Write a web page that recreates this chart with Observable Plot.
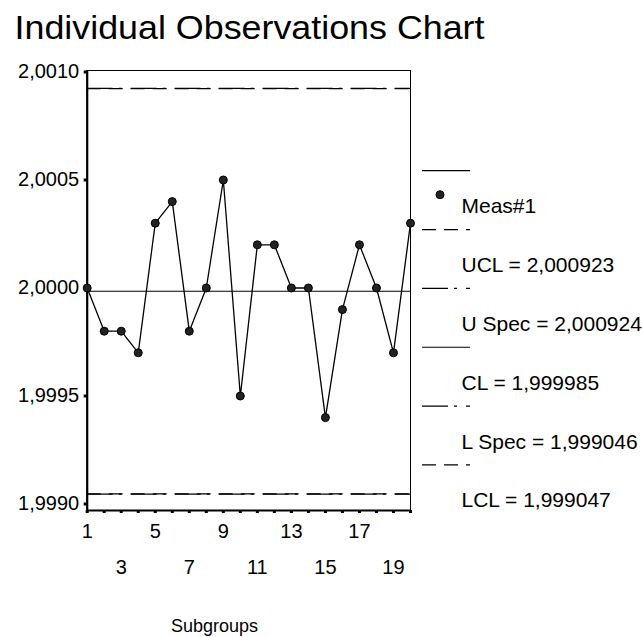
<!DOCTYPE html>
<html>
<head>
<meta charset="utf-8">
<script src="https://cdn.jsdelivr.net/npm/d3@7"></script>
<script src="https://cdn.jsdelivr.net/npm/@observablehq/plot@0.6"></script>
<style>
  body { margin: 0; background: #fff; }
  #chart svg { display: block; }
</style>
</head>
<body>
<div id="chart"></div>
<script>
// Individual measurements per subgroup
const subgroups = [1, 2, 3, 4, 5, 6, 7, 8, 9, 10, 11, 12, 13, 14, 15, 16, 17, 18, 19, 20];
const measurements = [2.0000, 1.9998, 1.9998, 1.9997, 2.0003, 2.0004, 1.9998, 2.0000, 2.0005, 1.9995,
                      2.0002, 2.0002, 2.0000, 2.0000, 1.9994, 1.9999, 2.0002, 2.0000, 1.9997, 2.0003];

// Control and specification limits
const limitNames = ["UCL", "U Spec", "CL", "L Spec", "LCL"];
const limitValues = [2.000923, 2.000924, 1.999985, 1.999046, 1.999047];

// Axis ticks and labels
const yTicks = [1.9990, 1.9995, 2.0000, 2.0005, 2.0010];
const xLabelsUpper = [1, 5, 9, 13, 17];
const xLabelsLower = [3, 7, 11, 15, 19];
const seriesName = "Meas#1";
const titleText = "Individual Observations Chart";
const xTitle = "Subgroups";

// Line styles for each limit
const limitDash = {"UCL": "14,8", "U Spec": "26,6,3,9", "CL": null, "L Spec": "26,6,3,9", "LCL": "14,8"};

const FONT = "'Liberation Sans', Arial, Helvetica, sans-serif";
const comma = (s) => s.replace(".", ",");
const fmtTick = (v) => comma(d3.format(".4f")(v));
const fmtLimit = (v) => comma(d3.format(".6f")(v));

const obs = subgroups.map((s, i) => ({subgroup: s, value: measurements[i]}));
const limits = limitNames.map((n, i) => ({name: n, value: limitValues[i]}));

const yDomain = [1.99896991, 2.00100694];

// Legend entries: sample line, optional marker, label
const legendItems = [
  {label: seriesName, dash: null, marker: true},
  ...limits.map(d => ({label: `${d.name} = ${fmtLimit(d.value)}`, dash: limitDash[d.name], marker: false}))
];

function legendMark(index, scales, values, dims) {
  const x0 = dims.width - dims.marginRight + 12;
  const g = d3.create("svg:g")
    .attr("font-family", FONT)
    .attr("font-size", 21)
    .attr("text-anchor", "start")
    .attr("fill", "black");
  legendItems.forEach((item, i) => {
    const y = 170.7 + i * 58.85;
    g.append("line")
      .attr("x1", x0).attr("x2", x0 + 48)
      .attr("y1", y).attr("y2", y)
      .attr("stroke", "black").attr("stroke-width", 1.2)
      .attr("stroke-dasharray", item.dash);
    if (item.marker) {
      g.append("circle")
        .attr("cx", x0 + 18).attr("cy", y + 24).attr("r", 4)
        .attr("fill", "#222").attr("stroke", "#000");
    }
    g.append("text")
      .attr("x", x0 + 39.5).attr("y", y + 42.5)
      .text(item.label);
  });
  return g.node();
}

const chart = Plot.plot({
  width: 642,
  height: 637,
  marginTop: 70,
  marginBottom: 127,
  marginLeft: 86.7,
  marginRight: 232,
  style: {fontFamily: FONT, color: "black", background: "white", overflow: "visible"},
  x: {domain: [1, 20]},
  y: {domain: yDomain},
  marks: [
    // Title
    Plot.text([titleText], {
      frameAnchor: "top-left", textAnchor: "start", lineAnchor: "bottom",
      dx: -72.7, dy: -31.7, fontSize: 33, fill: "black"
    }),
    // Limits
    ...limits.map(d => Plot.ruleY([d.value], {
      stroke: "black", strokeWidth: 1.2, strokeDasharray: limitDash[d.name]
    })),
    // Frame and axes
    Plot.frame({stroke: "black", strokeWidth: 1}),
    Plot.ruleX([1], {stroke: "black", strokeWidth: 2.2}),
    Plot.ruleY([yDomain[0]], {stroke: "black", strokeWidth: 2.2}),
    Plot.axisY({
      ticks: yTicks, tickFormat: fmtTick, tickSize: 3, tickPadding: 5,
      fontSize: 20, strokeWidth: 3, label: null
    }),
    Plot.axisX({
      ticks: subgroups, tickFormat: () => "", tickSize: 3, strokeWidth: 3, label: null
    }),
    Plot.text(xLabelsUpper, {x: d => d, frameAnchor: "bottom", lineAnchor: "bottom", dy: 27, fontSize: 20, fill: "black"}),
    Plot.text(xLabelsLower, {x: d => d, frameAnchor: "bottom", lineAnchor: "bottom", dy: 63, fontSize: 20, fill: "black"}),
    Plot.text([xTitle], {frameAnchor: "bottom", lineAnchor: "bottom", dx: -34.4, dy: 121, fontSize: 18, fill: "black"}),
    // Observations
    Plot.line(obs, {x: "subgroup", y: "value", stroke: "black", strokeWidth: 1.3}),
    Plot.dot(obs, {x: "subgroup", y: "value", r: 4, fill: "#222", stroke: "#000", strokeWidth: 1}),
    // Legend
    legendMark
  ]
});

// Stretch the title to its set width
d3.select(chart).selectAll("text")
  .filter(function() { return this.textContent === titleText; })
  .attr("textLength", 470).attr("lengthAdjust", "spacingAndGlyphs");

document.getElementById("chart").append(chart);
</script>
</body>
</html>
